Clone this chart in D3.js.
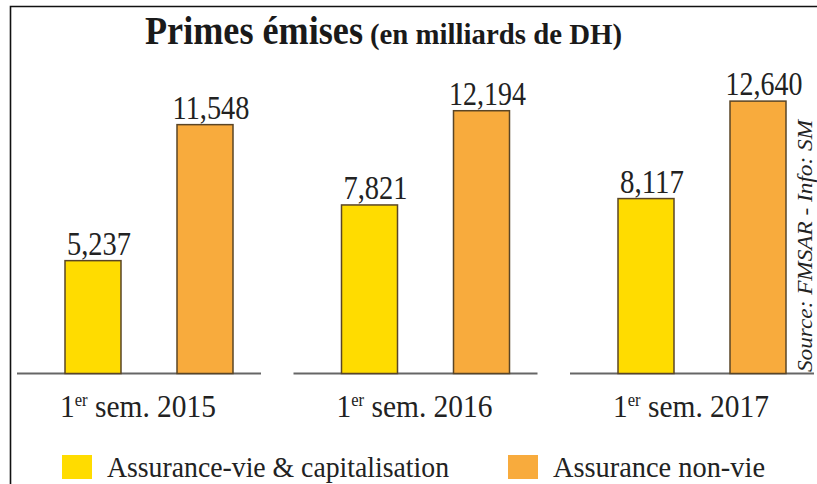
<!DOCTYPE html>
<html>
<head>
<meta charset="utf-8">
<title>Primes émises</title>
<script src="https://cdn.jsdelivr.net/npm/d3@7"></script>
<style>
    body { margin: 0; background: #fff; }
    svg { display: block; font-family: "Liberation Serif", "Times New Roman", serif; }
</style>
</head>
<body>
<div id="chart"></div>
<script>
/*-------------------- Données -------------------*/

var periodes = ["2015", "2016", "2017"];
var series = ["Assurance-vie & capitalisation", "Assurance non-vie"];
var primesVie = [5.237, 7.821, 8.117];
var primesNonVie = [11.548, 12.194, 12.640];
var couleurs = ["#FFDC00", "#F8AB3D"];
var titre = "Primes émises";
var sousTitre = "(en milliards de DH)";
var source = "Source: FMSAR - Info: SM";

var width = 817, height = 484;

var svg = d3.select("#chart").append("svg")
    .attr("width", width)
    .attr("height", height);

// cadre (haut + gauche)
svg.append("path")
    .attr("d", "M10.5,484 V6.5 H817")
    .attr("fill", "none")
    .attr("stroke", "#111")
    .attr("stroke-width", 1.6);

// titre (police condensée : on étire en hauteur puis on resserre la largeur)
svg.append("text")
    .attr("x", 145).attr("y", 44)
    .attr("font-size", 39).attr("font-weight", "bold")
    .attr("fill", "#1a1a1a")
    .attr("textLength", 218).attr("lengthAdjust", "spacingAndGlyphs")
    .text(titre);

svg.append("text")
    .attr("x", 370).attr("y", 44)
    .attr("font-size", 30).attr("font-weight", "bold")
    .attr("fill", "#1a1a1a")
    .attr("textLength", 252).attr("lengthAdjust", "spacingAndGlyphs")
    .text(sousTitre);

/*-------------------- Echelles -------------------*/

var xGroupe = d3.scalePoint()
    .domain(periodes)
    .range([149, 702]);

var xSerie = d3.scaleBand()
    .domain(series)
    .range([-112, 112])
    .paddingInner(0.5)
    .paddingOuter(0.25);

var yScale = d3.scaleLinear()
    .domain([0, 13])
    .range([373.5, 373.5 - 13 * 21.55]);

var fr = d3.formatLocale({decimal: ",", thousands: " ", grouping: [3], currency: ["", " DH"]});
var fmt = fr.format(".3f");

var donnees = periodes.map(function(p, i) {
    return {periode: p, valeurs: [
        {serie: series[0], valeur: primesVie[i], couleur: couleurs[0]},
        {serie: series[1], valeur: primesNonVie[i], couleur: couleurs[1]}
    ]};
});

var groupes = svg.selectAll("g.groupe")
    .data(donnees)
    .enter()
    .append("g")
    .attr("class", "groupe")
    .attr("transform", d => "translate(" + xGroupe(d.periode) + ",0)");

// ligne de base de chaque groupe
groupes.append("line")
    .attr("x1", -132).attr("x2", 112)
    .attr("y1", yScale(0)).attr("y2", yScale(0))
    .attr("stroke", "#666")
    .attr("stroke-width", 2);

groupes.selectAll("rect")
    .data(d => d.valeurs)
    .enter()
    .append("rect")
    .attr("x", d => xSerie(d.serie))
    .attr("width", xSerie.bandwidth())
    .attr("y", d => yScale(d.valeur))
    .attr("height", d => yScale(0) - yScale(d.valeur))
    .attr("fill", d => d.couleur)
    .attr("stroke", "#5a4526")
    .attr("stroke-width", 1.5);

groupes.selectAll("text.valeur")
    .data(d => d.valeurs)
    .enter()
    .append("text")
    .attr("class", "valeur")
    .attr("x", d => xSerie(d.serie) + xSerie.bandwidth() / 2 + 6)
    .attr("y", d => yScale(d.valeur) - 6)
    .attr("text-anchor", "middle")
    .attr("font-size", 33)
    .attr("fill", "#222")
    .attr("textLength", d => fmt(d.valeur).length * 12.8)
    .attr("lengthAdjust", "spacingAndGlyphs")
    .text(d => fmt(d.valeur));

// étiquettes des périodes
var etiquettes = groupes.append("text")
    .attr("x", -11)
    .attr("y", 417)
    .attr("text-anchor", "middle")
    .attr("font-size", 32)
    .attr("fill", "#222");

etiquettes.append("tspan").text("1");
etiquettes.append("tspan")
    .attr("font-size", 18)
    .attr("dy", -11)
    .text("er");
etiquettes.append("tspan")
    .attr("dy", 11)
    .text(d => " sem. " + d.periode);

etiquettes.attr("textLength", 156).attr("lengthAdjust", "spacingAndGlyphs");

// source
svg.append("text")
    .attr("transform", "translate(812,372) rotate(-90)")
    .attr("font-size", 20)
    .attr("font-style", "italic")
    .attr("fill", "#222")
    .attr("textLength", 252).attr("lengthAdjust", "spacingAndGlyphs")
    .text(source);

/*-------------------- Légende -------------------*/

var legendePos = [62, 508];
var legendeLong = [342, 212];

var legende = svg.selectAll("g.legende")
    .data(series)
    .enter()
    .append("g")
    .attr("class", "legende")
    .attr("transform", (d, i) => "translate(" + legendePos[i] + ",455)");

legende.append("rect")
    .attr("width", 30)
    .attr("height", 24)
    .attr("fill", (d, i) => couleurs[i]);

legende.append("text")
    .attr("x", 45)
    .attr("y", 22)
    .attr("font-size", 30)
    .attr("fill", "#222")
    .attr("textLength", (d, i) => legendeLong[i])
    .attr("lengthAdjust", "spacingAndGlyphs")
    .text(d => d);
</script>
</body>
</html>
